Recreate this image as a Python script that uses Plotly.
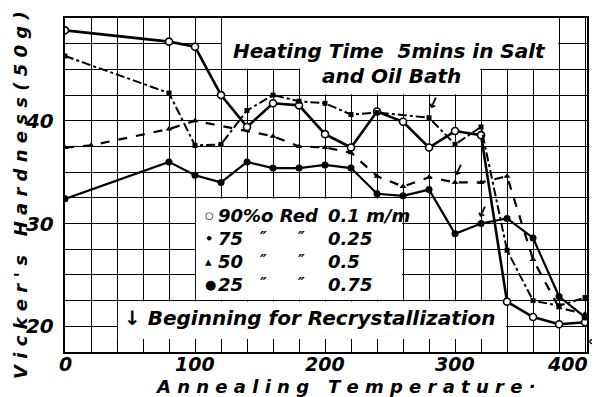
import plotly.graph_objects as go

# ---------------- data ----------------
TEMPS_90 = [0, 80, 100, 120, 140, 160, 180, 200, 220, 240, 260, 280, 300, 320, 340, 360, 380, 400]
HARD_90 = [48.8, 47.7, 47.2, 42.5, 39.4, 41.7, 41.5, 38.7, 37.4, 40.9, 39.9, 37.4, 39.0, 38.6, 22.4, 20.9, 20.2, 20.4]

TEMPS_75 = [0, 80, 100, 120, 140, 160, 180, 200, 220, 240, 280, 300, 320, 340, 360, 380, 400]
HARD_75 = [46.3, 42.7, 37.6, 37.7, 41.0, 42.5, 41.9, 41.7, 40.6, 40.8, 40.3, 37.7, 39.4, 27.4, 22.5, 22.0, 22.8]

TEMPS_50 = [0, 20, 80, 100, 160, 180, 200, 220, 240, 260, 280, 300, 320, 340, 360, 380, 400]
HARD_50 = [37.4, 37.6, 39.2, 40.0, 38.5, 37.5, 37.4, 36.9, 34.6, 33.6, 34.5, 34.0, 34.0, 34.6, 26.5, 21.8, 21.2]

TEMPS_25 = [0, 80, 100, 120, 140, 160, 180, 200, 220, 240, 260, 280, 300, 320, 340, 360, 380, 400]
HARD_25 = [32.4, 36.0, 34.7, 34.0, 36.0, 35.4, 35.4, 35.7, 35.4, 32.9, 32.7, 33.3, 29.0, 30.0, 30.5, 28.6, 22.9, 20.9]

X_TICK_LABELS = ["0", "100", "200", "300", "400"]
X_TICK_VALUES = [0, 100, 200, 300, 400]
Y_TICK_LABELS = {20: "20", 30: "30", 40: "40", 50: "50"}

LEGEND_ROWS = [
    ("\u25cb", "90%o Red", "", "", "0.1 m/m"),
    ("\u2022", "75", "\u2033", "\u2033", "0.25"),
    ("\u25b4", "50", "\u2033", "\u2033", "0.5"),
    ("\u25cf", "25", "\u2033", "\u2033", "0.75"),
]

# ---------------- geometry (page pixels of the reference) ----------------
OFF = 8                      # default body margin of the html page
PL, PR, PT, PB = 65, 587, 18, 352   # plot area in page pixels
W, H = 600 - OFF, 397 - OFF
ML, MT = PL - OFF, PT - OFF
MR, MB = W - (PR - OFF), H - (PB - OFF)
XR = [0, 401.5]
YR = [17.5, 50]


def pxp(px):
    return (px - PL) / (PR - PL)


def pyp(py):
    return 1 - (py - PT) / (PB - PT)


FONT = "DejaVu Sans"


def f(size):
    return dict(family=FONT, size=size, color="black", weight="bold", style="italic")


fig = go.Figure()

fig.add_trace(go.Scatter(x=TEMPS_90, y=HARD_90, mode="lines+markers",
                         line=dict(color="black", width=2.6),
                         marker=dict(symbol="circle", size=7, color="white",
                                     line=dict(color="black", width=1.6)),
                         showlegend=False))
fig.add_trace(go.Scatter(x=TEMPS_75, y=HARD_75, mode="lines+markers",
                         line=dict(color="black", width=2, dash="dashdot"),
                         marker=dict(symbol="square", size=5, color="black"),
                         showlegend=False))
fig.add_trace(go.Scatter(x=TEMPS_50, y=HARD_50, mode="lines+markers",
                         line=dict(color="black", width=2.2, dash="dash"),
                         marker=dict(symbol="triangle-up", size=6, color="black"),
                         showlegend=False))
fig.add_trace(go.Scatter(x=TEMPS_25, y=HARD_25, mode="lines+markers",
                         line=dict(color="black", width=2.2),
                         marker=dict(symbol="circle", size=7, color="black"),
                         showlegend=False))


# white boxes that interrupt the grid behind the texts
def white_box(x0, x1, y0, y1):
    dx, dy = 0.7, 0.09
    fig.add_shape(type="rect", xref="x", yref="y", x0=x0 + dx, x1=x1 - dx,
                  y0=y0 + dy, y1=y1 - dy, fillcolor="white",
                  line=dict(width=0), layer="between")


white_box(120, 380, 45, 50.5)
white_box(180, 320, 42.5, 45.2)
white_box(100, 260, 22.5, 32.5)
white_box(40, 340, 17.0, 22.5)

ann = []


def text(px, py, s, size, xanchor="left", angle=0):
    ann.append(dict(x=pxp(px), y=pyp(py), xref="paper", yref="paper", text=s,
                    showarrow=False, xanchor=xanchor, yanchor="middle",
                    font=f(size), textangle=angle))


# title box
text(231, 51, "Heating Time  5mins in Salt", 20)
text(320, 76, "and Oil Bath", 20)

# legend block
rows_y = [215, 238, 261, 284]
for (mk, a, d1, d2, v), py in zip(LEGEND_ROWS, rows_y):
    text(203, py, mk, 10 if mk == "\u25cb" else 13)
    text(216, py, a, 18)
    if d1:
        text(258, py, d1, 15)
    if d2:
        text(296, py, d2, 15)
    text(326, py, v, 18)

# recrystallization note
text(122, 318, "\u2193 Beginning for Recrystallization", 20)

# arrows marking recrystallization onset
for px, py in [(433, 103), (458, 170), (482, 212)]:
    text(px, py, "\u2193", 15, xanchor="center", angle=25)

# x tick labels
for v, lab in zip(X_TICK_VALUES, X_TICK_LABELS):
    cx = PL + v / XR[1] * (PR - PL)
    if v == 400:
        cx -= 18
    ann.append(dict(x=pxp(cx), y=pyp(364), xref="paper", yref="paper", text=lab,
                    showarrow=False, xanchor="center", yanchor="middle", font=f(19)))
text(592, 346, "\u00b0", 15, xanchor="center")

# axis titles
text(345, 386, "A n n e a l i n g   T e m p e r a t u r e \u00b7", 18, xanchor="center")
ann.append(dict(x=pxp(20), y=pyp(195), xref="paper", yref="paper",
                text="V i c k e r ' s   H a r d n e s s ( 5 0 g )",
                showarrow=False, xanchor="center", yanchor="middle",
                font=f(18), textangle=-90))

ytv = [17.5 + 2.5 * k for k in range(14)]
ytt = [Y_TICK_LABELS.get(v, "") for v in ytv]

fig.update_layout(
    width=W, height=H,
    margin=dict(l=ML, r=MR, t=MT, b=MB, autoexpand=False),
    paper_bgcolor="white", plot_bgcolor="white",
    annotations=ann,
    xaxis=dict(range=XR, tickvals=list(range(0, 401, 20)),
               ticktext=[""] * 21, ticks="inside", ticklen=13,
               tickcolor="black", tickwidth=1.4,
               showgrid=True, gridcolor="black", gridwidth=1.4,
               showline=True, linecolor="black", linewidth=2.4, mirror=True,
               zeroline=False),
    yaxis=dict(range=YR, tickvals=ytv, ticktext=ytt, ticks="",
               tickfont=f(20), ticklabelstandoff=5,
               showgrid=True, gridcolor="black", gridwidth=1.4,
               showline=True, linecolor="black", linewidth=2.4, mirror=True,
               zeroline=False),
)

fig.write_html("out.html")
